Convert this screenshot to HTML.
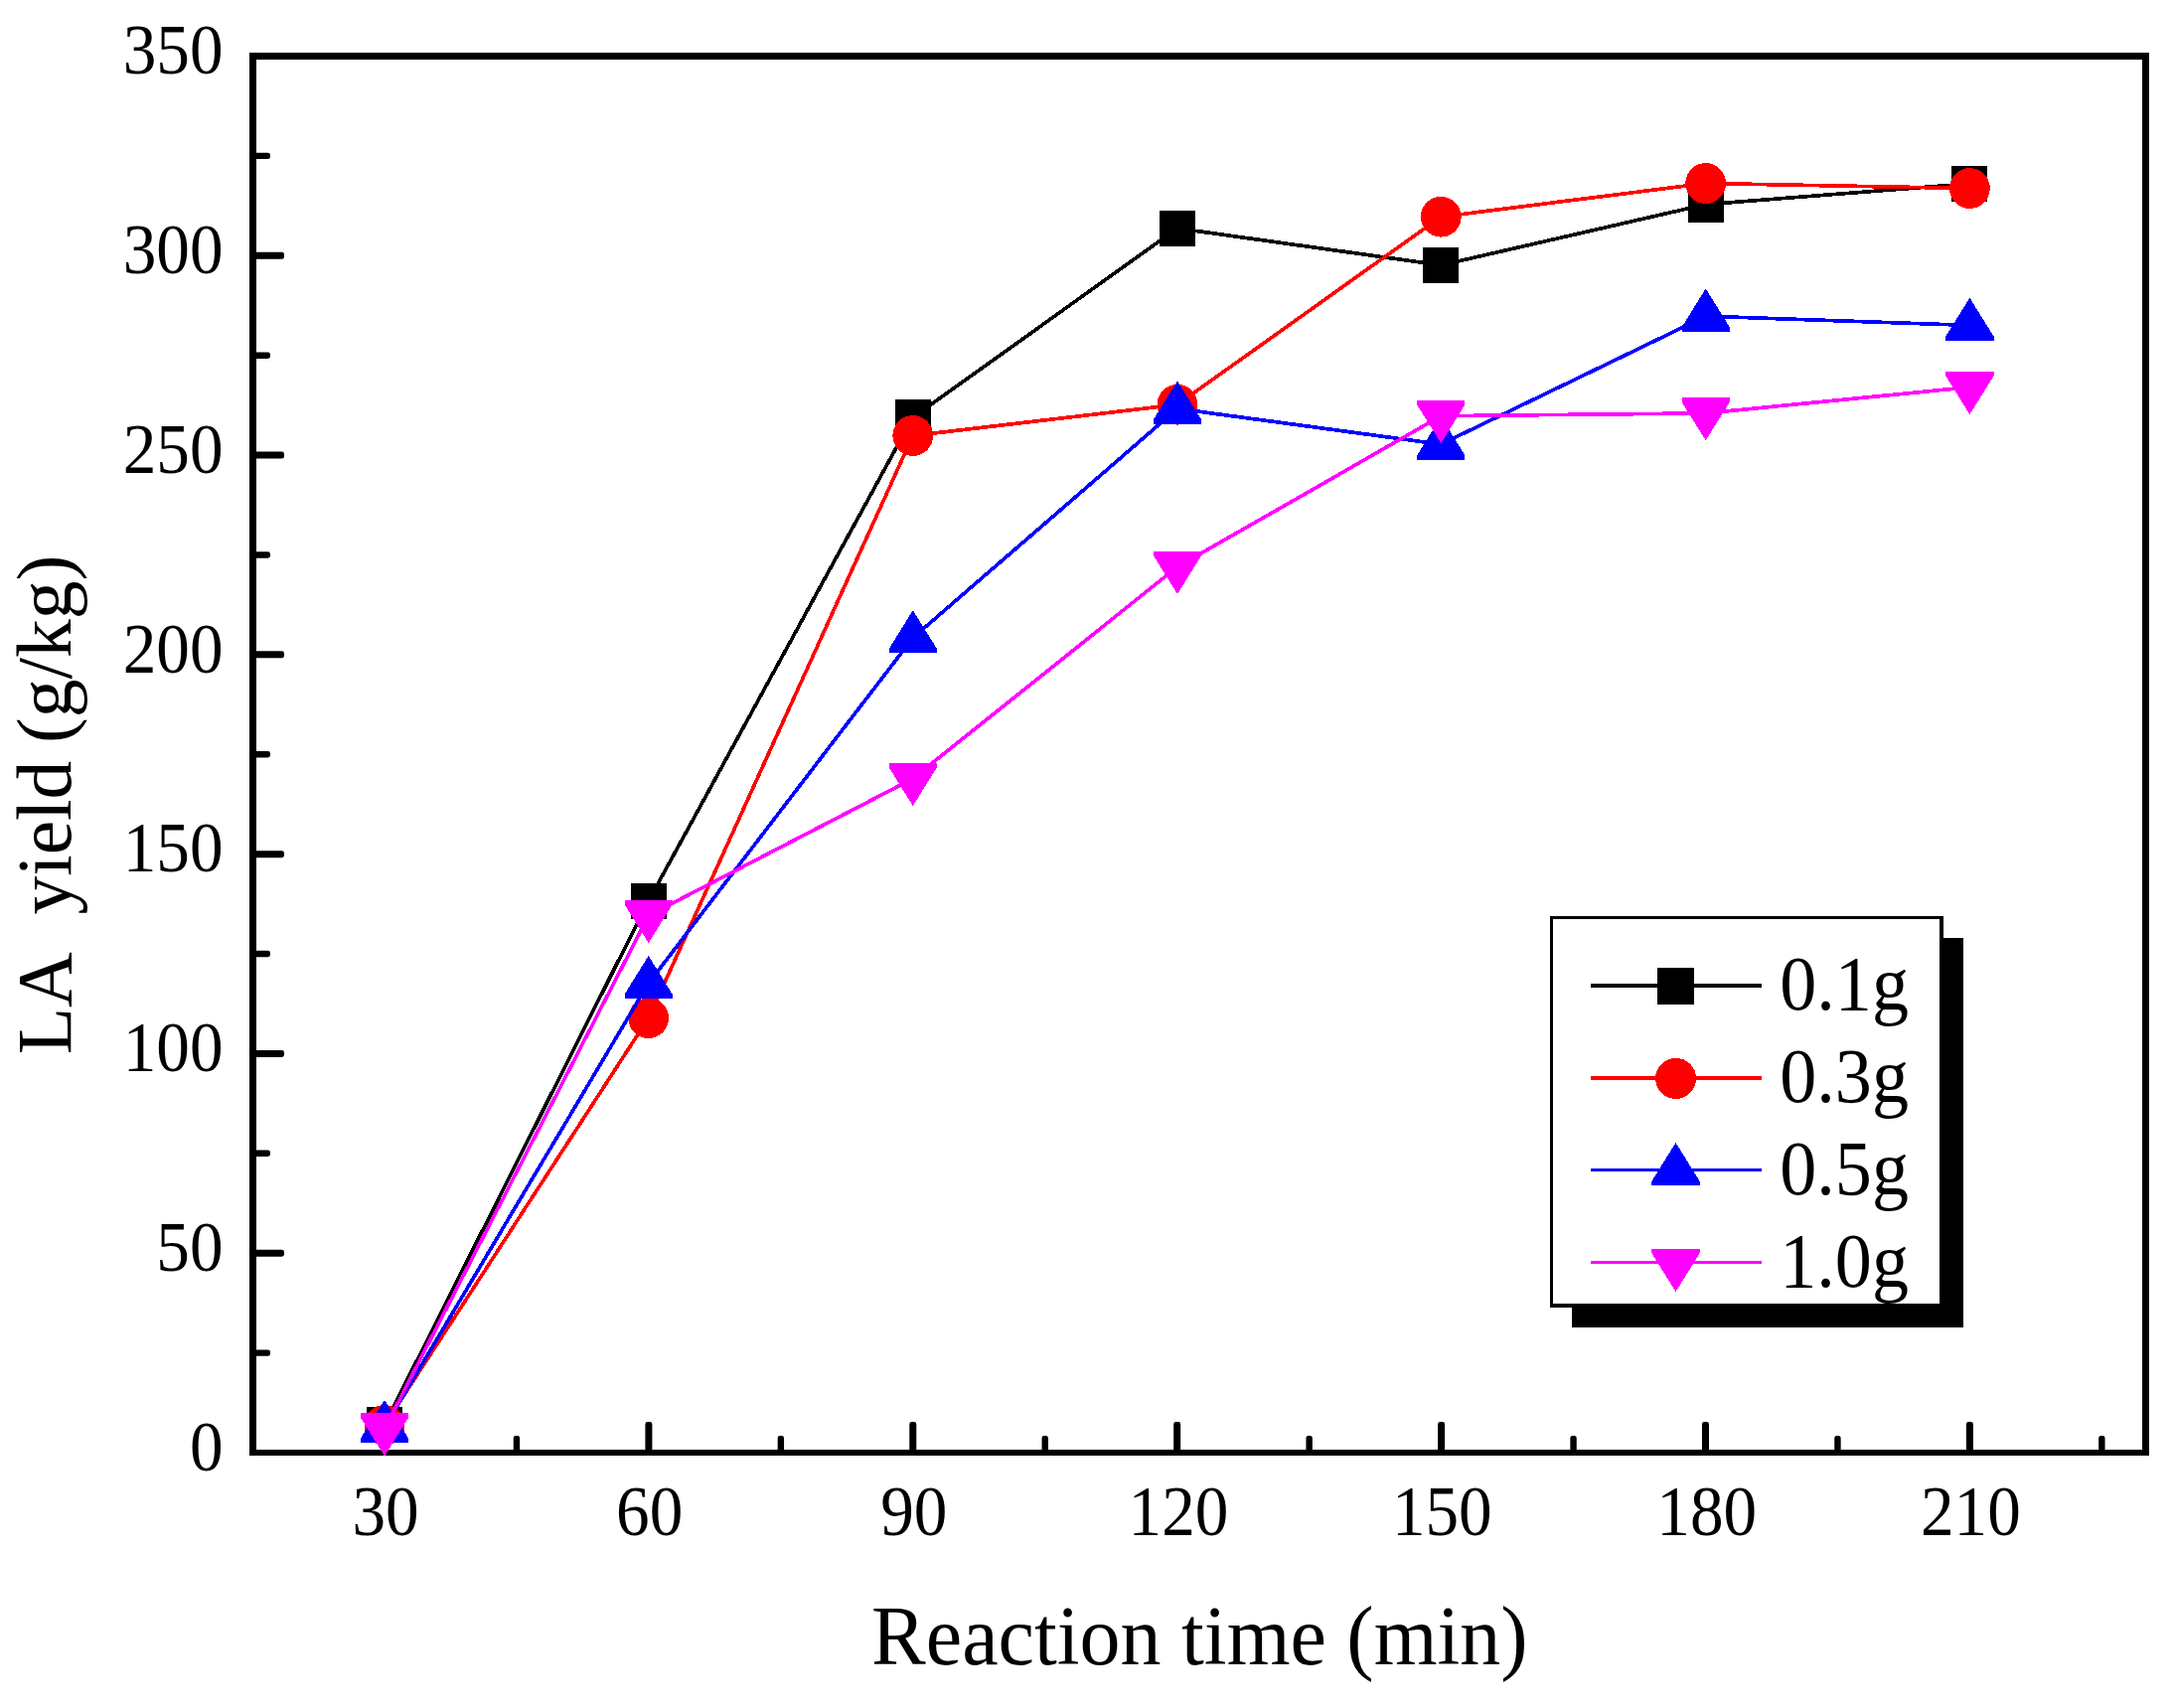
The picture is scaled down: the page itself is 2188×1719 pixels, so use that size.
<!DOCTYPE html>
<html lang="en">
<head>
<meta charset="utf-8">
<title>LA yield vs reaction time</title>
<style>
html,body{margin:0;padding:0;background:#fff;}
body{width:2188px;height:1719px;overflow:hidden;}
svg{display:block;}
text{font-family:"Liberation Serif","Times New Roman",Times,serif;fill:#000;}
.tk{font-size:71.5px;}
.ti{font-size:83.7px;}
.lg{font-size:78.8px;}
.yt{font-size:79px;}
</style>
</head>
<body>
<svg width="2188" height="1719" viewBox="0 0 2188 1719">
<rect x="0" y="0" width="2188" height="1719" fill="#fff"/>
<g id="axes">
<path d="M251 53H2163V1465H251ZM258 60V1459H2156V60Z" fill="#000" fill-rule="evenodd"/>
<rect x="254.5" y="1358.41" width="17.5" height="6.4" rx="2.4"/>
<rect x="254.5" y="1257.71" width="31.5" height="7" rx="2.4"/>
<rect x="254.5" y="1157.62" width="17.5" height="6.4" rx="2.4"/>
<rect x="254.5" y="1056.93" width="31.5" height="7" rx="2.4"/>
<rect x="254.5" y="956.84" width="17.5" height="6.4" rx="2.4"/>
<rect x="254.5" y="856.14" width="31.5" height="7" rx="2.4"/>
<rect x="254.5" y="756.05" width="17.5" height="6.4" rx="2.4"/>
<rect x="254.5" y="655.36" width="31.5" height="7" rx="2.4"/>
<rect x="254.5" y="555.26" width="17.5" height="6.4" rx="2.4"/>
<rect x="254.5" y="454.57" width="31.5" height="7" rx="2.4"/>
<rect x="254.5" y="354.48" width="17.5" height="6.4" rx="2.4"/>
<rect x="254.5" y="253.79" width="31.5" height="7" rx="2.4"/>
<rect x="254.5" y="153.69" width="17.5" height="6.4" rx="2.4"/>
<rect x="383.5" y="1431" width="7" height="31" rx="2.4"/>
<rect x="516.75" y="1445" width="6.4" height="17" rx="2.4"/>
<rect x="649.4" y="1431" width="7" height="31" rx="2.4"/>
<rect x="782.65" y="1445" width="6.4" height="17" rx="2.4"/>
<rect x="915.3" y="1431" width="7" height="31" rx="2.4"/>
<rect x="1048.55" y="1445" width="6.4" height="17" rx="2.4"/>
<rect x="1181.2" y="1431" width="7" height="31" rx="2.4"/>
<rect x="1314.45" y="1445" width="6.4" height="17" rx="2.4"/>
<rect x="1447.1" y="1431" width="7" height="31" rx="2.4"/>
<rect x="1580.35" y="1445" width="6.4" height="17" rx="2.4"/>
<rect x="1713" y="1431" width="7" height="31" rx="2.4"/>
<rect x="1846.25" y="1445" width="6.4" height="17" rx="2.4"/>
<rect x="1978.9" y="1431" width="7" height="31" rx="2.4"/>
<rect x="2112.15" y="1445" width="6.4" height="17" rx="2.4"/>
</g>
<g id="series-0.1g" shape-rendering="crispEdges">
<polyline points="387,1434.2 652.7,906.7 918.8,420.1 1185,229.8 1450.3,266.9 1716.7,205.7 1982.4,184.8" fill="none" stroke="#000" stroke-width="3.7" stroke-linejoin="round"/>
<rect x="369" y="1416.2" width="36" height="36" fill="#000"/>
<rect x="634.7" y="888.7" width="36" height="36" fill="#000"/>
<rect x="900.8" y="402.1" width="36" height="36" fill="#000"/>
<rect x="1167" y="211.8" width="36" height="36" fill="#000"/>
<rect x="1432.3" y="248.9" width="36" height="36" fill="#000"/>
<rect x="1698.7" y="187.7" width="36" height="36" fill="#000"/>
<rect x="1964.4" y="166.8" width="36" height="36" fill="#000"/>
</g>
<g id="series-0.3g" shape-rendering="crispEdges">
<polyline points="387,1434.4 652.7,1024.6 918.8,438.5 1185,407.2 1450.3,218.2 1716.7,184.5 1982.4,189.5" fill="none" stroke="#f00" stroke-width="3.7" stroke-linejoin="round"/>
<circle cx="387" cy="1434.4" r="20.4" fill="#f00"/>
<circle cx="652.7" cy="1024.6" r="20.4" fill="#f00"/>
<circle cx="918.8" cy="438.5" r="20.4" fill="#f00"/>
<circle cx="1185" cy="407.2" r="20.4" fill="#f00"/>
<circle cx="1450.3" cy="218.2" r="20.4" fill="#f00"/>
<circle cx="1716.7" cy="184.5" r="20.4" fill="#f00"/>
<circle cx="1982.4" cy="189.5" r="20.4" fill="#f00"/>
</g>
<g id="series-0.5g" shape-rendering="crispEdges">
<polyline points="387,1436.6 652.7,989.6 918.8,641.9 1185,411.3 1450.3,447.2 1716.7,318.2 1982.4,327.4" fill="none" stroke="#00f" stroke-width="3.7" stroke-linejoin="round"/>
<polygon points="362.85,1451.9 411.15,1451.9 411.15,1447.7 387,1408.9 362.85,1447.7" fill="#00f"/>
<polygon points="628.55,1004.9 676.85,1004.9 676.85,1000.7 652.7,961.9 628.55,1000.7" fill="#00f"/>
<polygon points="894.65,657.2 942.95,657.2 942.95,653 918.8,614.2 894.65,653" fill="#00f"/>
<polygon points="1160.85,426.6 1209.15,426.6 1209.15,422.4 1185,383.6 1160.85,422.4" fill="#00f"/>
<polygon points="1426.15,462.5 1474.45,462.5 1474.45,458.3 1450.3,419.5 1426.15,458.3" fill="#00f"/>
<polygon points="1692.55,333.5 1740.85,333.5 1740.85,329.3 1716.7,290.5 1692.55,329.3" fill="#00f"/>
<polygon points="1958.25,342.7 2006.55,342.7 2006.55,338.5 1982.4,299.7 1958.25,338.5" fill="#00f"/>
</g>
<g id="series-1.0g" shape-rendering="crispEdges">
<polyline points="387,1437.9 652.7,921.6 918.8,783.6 1185,570.5 1450.3,418.7 1716.7,415.9 1982.4,389.7" fill="none" stroke="#f0f" stroke-width="3.7" stroke-linejoin="round"/>
<polygon points="362.85,1422.4 411.15,1422.4 411.15,1426.6 387,1465.4 362.85,1426.6" fill="#f0f"/>
<polygon points="628.55,906.1 676.85,906.1 676.85,910.3 652.7,949.1 628.55,910.3" fill="#f0f"/>
<polygon points="894.65,768.1 942.95,768.1 942.95,772.3 918.8,811.1 894.65,772.3" fill="#f0f"/>
<polygon points="1160.85,555 1209.15,555 1209.15,559.2 1185,598 1160.85,559.2" fill="#f0f"/>
<polygon points="1426.15,403.2 1474.45,403.2 1474.45,407.4 1450.3,446.2 1426.15,407.4" fill="#f0f"/>
<polygon points="1692.55,400.4 1740.85,400.4 1740.85,404.6 1716.7,443.4 1692.55,404.6" fill="#f0f"/>
<polygon points="1958.25,374.2 2006.55,374.2 2006.55,378.4 1982.4,417.2 1958.25,378.4" fill="#f0f"/>
</g>
<g id="ylabels" class="tk" text-anchor="end">
<text transform="translate(224.5 1479.8) scale(0.94 1)">0</text>
<text transform="translate(224.5 1279.01) scale(0.94 1)">50</text>
<text transform="translate(224.5 1078.23) scale(0.94 1)">100</text>
<text transform="translate(224.5 877.44) scale(0.94 1)">150</text>
<text transform="translate(224.5 676.66) scale(0.94 1)">200</text>
<text transform="translate(224.5 475.87) scale(0.94 1)">250</text>
<text transform="translate(224.5 275.09) scale(0.94 1)">300</text>
<text transform="translate(224.5 74.3) scale(0.94 1)">350</text>
</g>
<g id="xlabels" class="tk" text-anchor="middle">
<text transform="translate(388 1544.5) scale(0.94 1)">30</text>
<text transform="translate(653.7 1544.5) scale(0.94 1)">60</text>
<text transform="translate(919.8 1544.5) scale(0.94 1)">90</text>
<text transform="translate(1186 1544.5) scale(0.94 1)">120</text>
<text transform="translate(1451.3 1544.5) scale(0.94 1)">150</text>
<text transform="translate(1717.7 1544.5) scale(0.94 1)">180</text>
<text transform="translate(1983.4 1544.5) scale(0.94 1)">210</text>
</g>
<text class="ti" text-anchor="middle" transform="translate(1207.3 1675) scale(0.98 1)">Reaction time (min)</text>
<text class="yt" text-anchor="middle" style="white-space:pre" transform="translate(70.9 810) rotate(-90) scale(0.98 1)">LA  <tspan dx="3.2">yield</tspan><tspan dx="-1.6"> (g/kg)</tspan></text>
<g id="legend" shape-rendering="crispEdges">
<rect x="1582" y="944" width="394" height="392" fill="#000"/>
<rect x="1560" y="922" width="396" height="394" fill="#fff"/>
<path d="M1560 922H1956V1316H1560ZM1563 925V1312H1952V925Z" fill="#000" fill-rule="evenodd"/>
<line x1="1601" y1="991.9" x2="1773" y2="991.9" stroke="#000" stroke-width="3.8"/>
<rect x="1668" y="974" width="37" height="37" fill="#000"/>
<text class="lg" transform="translate(1791.3 1016.1) scale(0.94 1)">0.1g</text>
<line x1="1601" y1="1084.9" x2="1773" y2="1084.9" stroke="#f00" stroke-width="3.8"/>
<circle cx="1686.6" cy="1085.4" r="20.5" fill="#f00"/>
<text class="lg" transform="translate(1791.3 1109.1) scale(0.94 1)">0.3g</text>
<line x1="1601" y1="1177.5" x2="1773" y2="1177.5" stroke="#00f" stroke-width="3.1"/>
<polygon points="1662.35,1193 1710.65,1193 1710.65,1188.8 1686.5,1150 1662.35,1188.8" fill="#00f"/>
<text class="lg" transform="translate(1791.3 1201.7) scale(0.94 1)">0.5g</text>
<line x1="1601" y1="1270.6" x2="1773" y2="1270.6" stroke="#f0f" stroke-width="3.1"/>
<polygon points="1662.35,1257 1710.65,1257 1710.65,1261.2 1686.5,1300 1662.35,1261.2" fill="#f0f"/>
<text class="lg" transform="translate(1791.3 1294.8) scale(0.94 1)">1.0g</text>
</g>
</svg>
</body>
</html>
